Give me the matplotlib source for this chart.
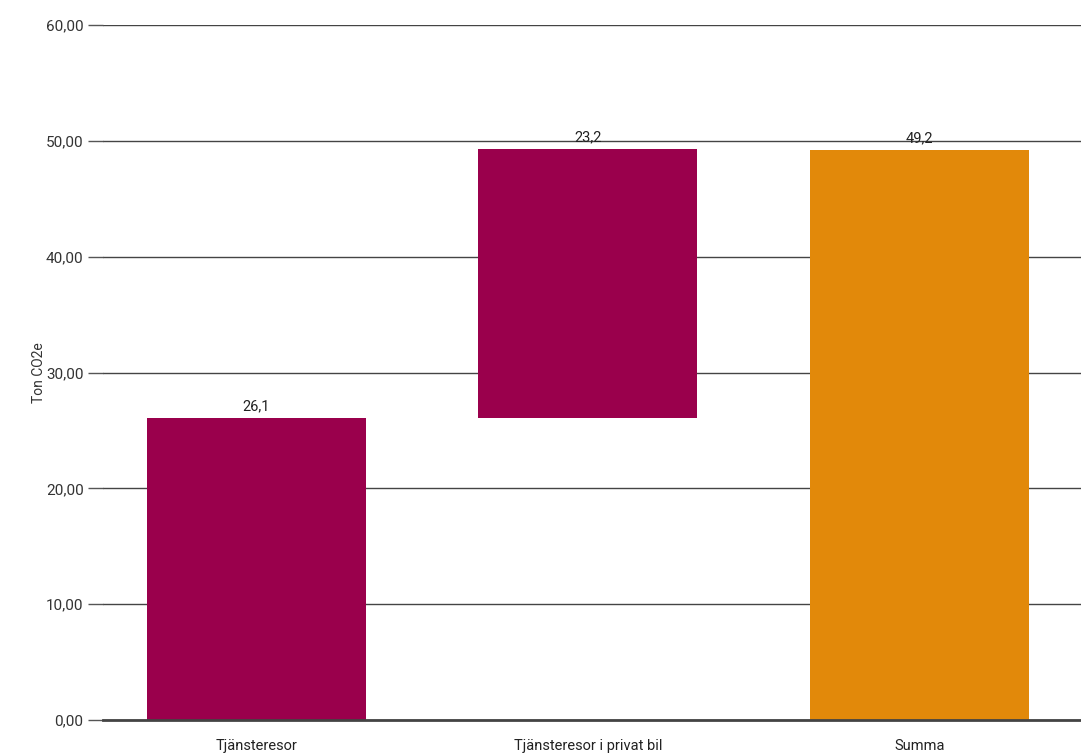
import matplotlib.pyplot as plt
import numpy as np

plt.rcParams['font.family'] = ['Roboto', 'DejaVu Sans']

categories = ['Tjänsteresor', 'Tjänsteresor i privat bil', 'Summa']
steps = [26.1, 23.2]
total = 49.2
yticks = [0, 10, 20, 30, 40, 50, 60]

# vattenfall: varje steg startar där föregående slutade, summan från noll
bottoms = [0, steps[0], 0]
heights = [steps[0], steps[1], total]
colors = ['#9a004c', '#9a004c', '#e2890a']

fig = plt.figure(figsize=(10.81, 7.56), dpi=100)
ax = fig.add_axes([0.0953, 0.0476, 0.9047, 0.9193])

x = np.arange(len(categories))
bars = ax.bar(x, heights, bottom=bottoms, width=0.66, color=colors, zorder=3)

for b, h, btm in zip(bars, heights, bottoms):
    ax.text(b.get_x() + b.get_width() / 2, btm + h + 0.4,
            f'{h:.1f}'.replace('.', ','), ha='center', va='bottom',
            fontsize=10.5, color='#222222', zorder=4)

ax.set_xlim(-0.462, 2.487)
ax.set_ylim(0, 60)
ax.set_yticks(yticks)
ax.set_yticklabels([f'{v:.2f}'.replace('.', ',') for v in yticks],
                   fontsize=11, color='#333333')
ax.set_xticks(x)
ax.set_xticklabels(categories, fontsize=10.5, color='#222222')
ax.tick_params(axis='y', length=11, width=1, color='#555555', pad=3)
ax.tick_params(axis='x', length=0, pad=14)

ax.grid(axis='y', color='#444444', linewidth=1, zorder=0)
for s in ['top', 'right', 'left']:
    ax.spines[s].set_visible(False)
ax.spines['bottom'].set_color('#444444')
ax.spines['bottom'].set_linewidth(2)
ax.spines['bottom'].set_zorder(5)

ax.set_ylabel('Ton CO2e', fontsize=10, color='#333333', labelpad=0)

fig.savefig('out.png', dpi=100)
